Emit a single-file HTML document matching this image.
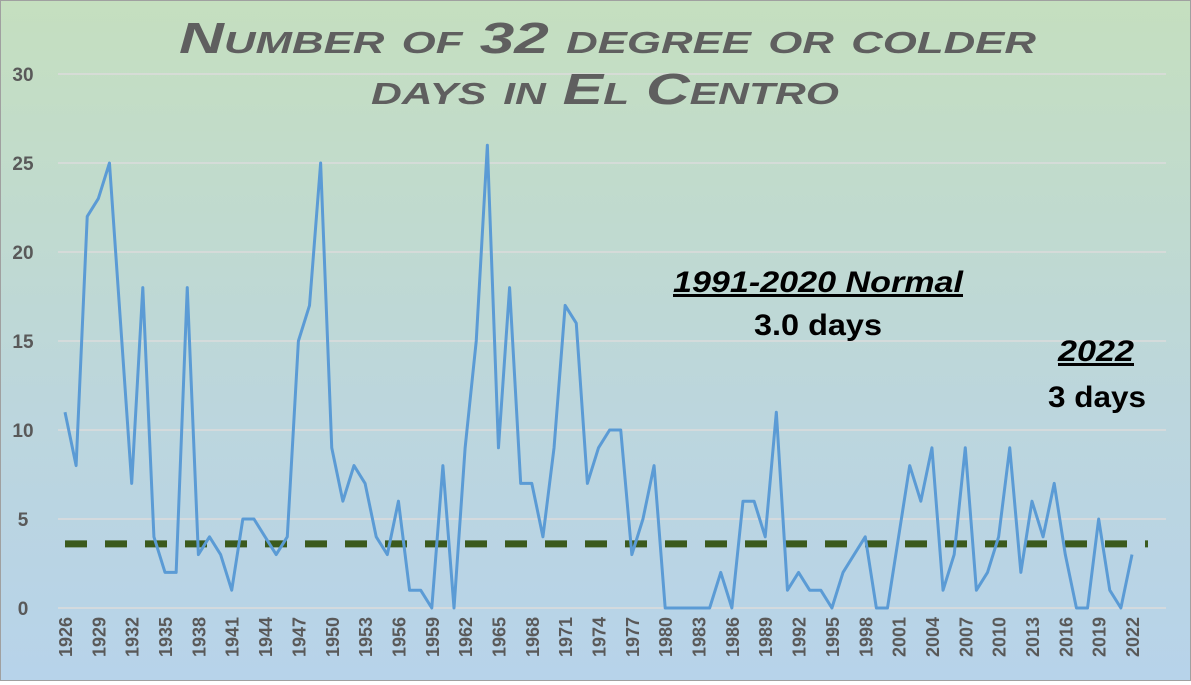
<!DOCTYPE html>
<html><head><meta charset="utf-8"><style>
body{margin:0;width:1191px;height:681px;overflow:hidden;font-family:"Liberation Sans",sans-serif}
#chart{position:absolute;left:0;top:0;width:1189px;height:679px;border:1px solid #a0a0a0;background:linear-gradient(#c5dfbf,#bcd6dd 60%,#b7d3ea)}
</style></head><body>
<div id="chart">
<svg width="1189" height="679">
<g id="grid"></g><g id="ylab"></g><g id="xlab"></g>
<text x="178" y="52" textLength="857" lengthAdjust="spacingAndGlyphs" font-family="Liberation Sans,sans-serif" font-weight="bold" font-style="italic" font-size="44" fill="#5f5f5f" style="font-variant:small-caps">Number of 32 degree or colder</text>
<text x="370" y="103" textLength="468" lengthAdjust="spacingAndGlyphs" font-family="Liberation Sans,sans-serif" font-weight="bold" font-style="italic" font-size="44" fill="#5f5f5f" style="font-variant:small-caps">days in El Centro</text>
<line id="normal" stroke="#3b5a1d" stroke-width="7" stroke-dasharray="22 18"/>
<polyline id="series" fill="none" stroke="#5b9bd5" stroke-width="3" stroke-linejoin="round"/>
<text x="672" y="291" textLength="290" lengthAdjust="spacingAndGlyphs" font-weight="bold" font-style="italic" font-size="30" text-decoration="underline" fill="#000">1991-2020 Normal</text>
<text x="753" y="334" textLength="128" lengthAdjust="spacingAndGlyphs" font-weight="bold" font-size="30" fill="#000">3.0 days</text>
<text x="1057" y="360" textLength="76" lengthAdjust="spacingAndGlyphs" font-weight="bold" font-style="italic" font-size="30" text-decoration="underline" fill="#000">2022</text>
<text x="1047" y="406" textLength="98" lengthAdjust="spacingAndGlyphs" font-weight="bold" font-size="30" fill="#000">3 days</text>
</svg></div>
<script>
const startYear=1926;
const values=[11,8,22,23,25,16,7,18,4,2,2,18,3,4,3,1,5,5,4,3,4,15,17,25,9,6,8,7,4,3,6,1,1,0,8,0,9,15,26,9,18,7,7,4,9,17,16,7,9,10,10,3,5,8,0,0,0,0,0,2,0,6,6,4,11,1,2,1,1,0,2,3,4,0,0,4,8,6,9,1,3,9,1,2,4,9,2,6,4,7,3,0,0,5,1,0,3];
const yTicks=[0,5,10,15,20,25,30];
const normalValue=3.6;
const NS="http://www.w3.org/2000/svg";
const x0=64,x1=1131,yb=607,yt=73;
const xs=i=>x0+i*(x1-x0)/(values.length-1);
const ys=v=>yb-v*(yb-yt)/30;
const grid=document.getElementById('grid'),yl=document.getElementById('ylab'),xl=document.getElementById('xlab');
yTicks.forEach(t=>{
 const l=document.createElementNS(NS,'line');
 
 
 l.setAttribute('x1',57);l.setAttribute('x2',1165);l.setAttribute('y1',ys(t));l.setAttribute('y2',ys(t));
 l.setAttribute('stroke','#dcdcdc');l.setAttribute('stroke-width','1.5');grid.appendChild(l);
 const tx=document.createElementNS(NS,'text');
 
 
 tx.setAttribute('x',22);tx.setAttribute('y',ys(t)+7);tx.setAttribute('text-anchor','middle');
 tx.setAttribute('font-size','19');tx.setAttribute('font-weight','bold');tx.setAttribute('fill','#595959');
 tx.textContent=t;yl.appendChild(tx);
});
values.forEach((v,i)=>{
 if(i%3!==0)return;
 const tx=document.createElementNS(NS,'text');
 
 
 const x=xs(i)+7;
 tx.setAttribute('transform','translate('+x+',616) rotate(-90)');
 tx.setAttribute('text-anchor','end');tx.setAttribute('font-size','18');tx.setAttribute('font-weight','bold');tx.setAttribute('fill','#595959');
 tx.textContent=startYear+i;xl.appendChild(tx);
});
document.getElementById('series').setAttribute('points',values.map((v,i)=>xs(i)+','+ys(v)).join(' '));
const n=document.getElementById('normal');
n.setAttribute('x1',64);n.setAttribute('x2',1147);n.setAttribute('y1',ys(normalValue));n.setAttribute('y2',ys(normalValue));
</script>
</body></html>
